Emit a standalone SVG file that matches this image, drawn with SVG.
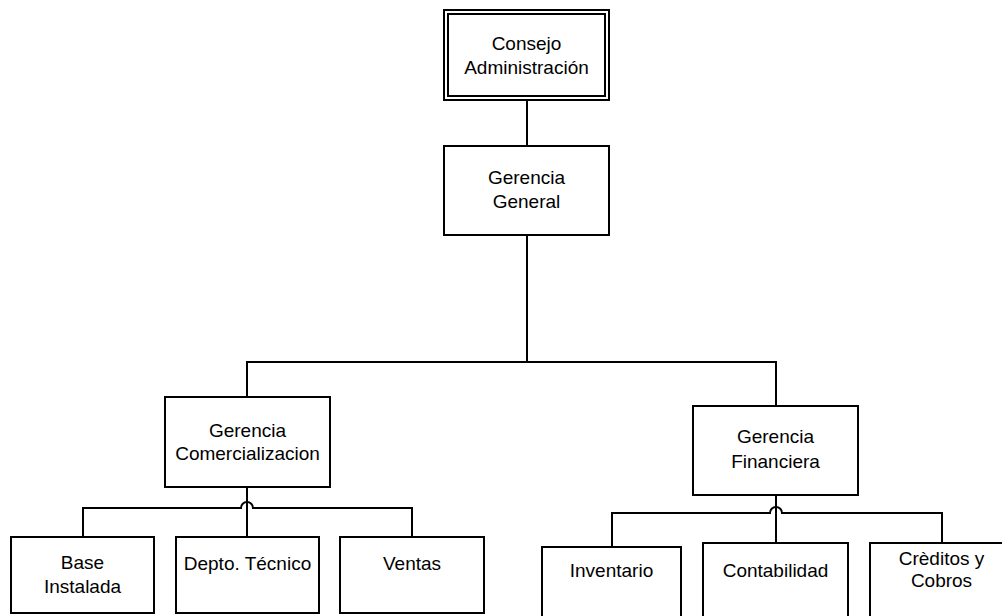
<svg xmlns="http://www.w3.org/2000/svg" width="1002" height="616" viewBox="0 0 1002 616">
  <style>
    .box { fill: #fff; stroke: #000; stroke-width: 2; }
    .lbl { font-family: "Liberation Sans", Arial, sans-serif; font-size: 19px; fill: #000; text-anchor: middle; }
    .wire { fill: none; stroke: #000; stroke-width: 2; }
  </style>
  <rect width="1002" height="616" fill="#fff"/>

  <!-- connectors -->
  <g id="connectors">
    <path class="wire" d="M527,100 V146"/>
    <path class="wire" d="M527,235 V362"/>
    <path class="wire" d="M247,397 V362 H776 V406"/>
    <!-- Comercializacion branch, bus hops over the stem -->
    <path class="wire" d="M247,487 V537"/>
    <path class="wire" d="M83,537 V508 H241 A6,6 0 0 1 253,508 H412 V537"/>
    <!-- Financiera branch -->
    <path class="wire" d="M776,495 V543"/>
    <path class="wire" d="M612,547 V513 H770 A6,6 0 0 1 782,513 H942 V543"/>
  </g>

  <g id="consejo">
    <rect class="box" x="444" y="10" width="165" height="90"/>
    <rect class="box" x="448" y="14" width="157" height="82"/>
    <text class="lbl" x="526.5" y="50">Consejo</text>
    <text class="lbl" x="526.5" y="74">Administración</text>
  </g>

  <g id="gerencia-general">
    <rect class="box" x="444" y="146" width="165" height="89"/>
    <text class="lbl" x="526.5" y="184">Gerencia</text>
    <text class="lbl" x="526.5" y="208">General</text>
  </g>

  <g id="gerencia-comercializacion">
    <rect class="box" x="165" y="397" width="165" height="90"/>
    <text class="lbl" x="247.5" y="437">Gerencia</text>
    <text class="lbl" x="247.5" y="460">Comercializacion</text>
  </g>

  <g id="gerencia-financiera">
    <rect class="box" x="693" y="406" width="165" height="89"/>
    <text class="lbl" x="775.5" y="443">Gerencia</text>
    <text class="lbl" x="775.5" y="468">Financiera</text>
  </g>

  <g id="base-instalada">
    <rect class="box" x="11" y="537" width="143" height="76"/>
    <text class="lbl" x="82.5" y="569">Base</text>
    <text class="lbl" x="82.5" y="593">Instalada</text>
  </g>

  <g id="depto-tecnico">
    <rect class="box" x="176" y="537" width="143" height="76"/>
    <text class="lbl" x="247.5" y="570">Depto. Técnico</text>
  </g>

  <g id="ventas">
    <rect class="box" x="340" y="537" width="144" height="76"/>
    <text class="lbl" x="412" y="570">Ventas</text>
  </g>

  <g id="inventario">
    <rect class="box" x="542" y="547" width="139" height="80"/>
    <text class="lbl" x="611.5" y="577">Inventario</text>
  </g>

  <g id="contabilidad">
    <rect class="box" x="703" y="543" width="145" height="84"/>
    <text class="lbl" x="775.5" y="577">Contabilidad</text>
  </g>

  <g id="creditos-cobros">
    <rect class="box" x="870" y="543" width="143" height="84"/>
    <text class="lbl" x="941.5" y="565">Crèditos y</text>
    <text class="lbl" x="941.5" y="587">Cobros</text>
  </g>
</svg>
